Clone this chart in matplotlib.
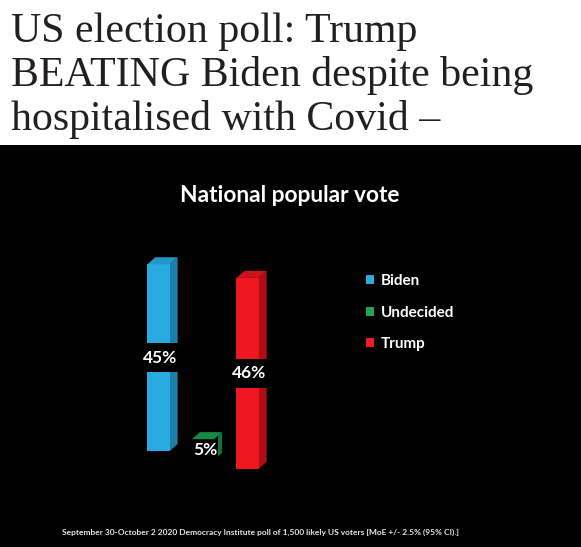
import matplotlib
matplotlib.use("Agg")
import matplotlib.pyplot as plt
from matplotlib.patches import Polygon, Rectangle, Patch
from matplotlib.path import Path
from matplotlib.transforms import Affine2D

# ---- data ----
categories = ["Biden", "Undecided", "Trump"]
values = [45, 5, 46]
value_labels = ["45%", "5%", "46%"]
headline = ["US election poll: Trump", "BEATING Biden despite being", "hospitalised with Covid \u2013"]
chart_title = "National popular vote"
footnote = ("September 30-October 2 2020 Democracy Institute poll of 1,500 likely US voters "
            "[MoE +/- 2.5% (95% CI).]")

# ---- styles ----
front_colors = ["#29abe2", "#1c9a4c", "#f01820"]
side_colors = ["#1d7fae", "#137236", "#b00d15"]
top_colors = ["#2496c8", "#178a42", "#cf121a"]
legend_colors = ["#29abe2", "#1fa55a", "#ee1c25"]
chart_font = ["Lato", "DejaVu Sans"]

W, H, DPI = 5.81, 5.47, 100
fig = plt.figure(figsize=(W, H), dpi=DPI, facecolor="white")
fw, fh = W * DPI, H * DPI

# black panel
fig.patches.append(Rectangle((0, 0), 1, (fh - 145) / fh, transform=fig.transFigure,
                             facecolor="black", edgecolor="none", zorder=-10))

# headline
for i, line in enumerate(headline):
    fig.text(11 / fw, 1 - (42 + i * 44) / fh, line, family=["Liberation Serif"],
             fontsize=30.2, color="#231f20", ha="left", va="baseline")

# chart axes (pixel-planned)
ax_left, ax_right = 100, 320
ax_top, ax_bot = 230, 480
ax = fig.add_axes([ax_left / fw, 1 - ax_bot / fh, (ax_right - ax_left) / fw, (ax_bot - ax_top) / fh])
ax.set_axis_off()
px_per_x = 44.5
px_per_y = 4.15
x0_px, base_px = 158.5, 451
ax.set_xlim((ax_left - x0_px) / px_per_x, (ax_right - x0_px) / px_per_x)
ylo = -(ax_bot - base_px) / px_per_y
ax.set_ylim(ylo, ylo + (ax_bot - ax_top) / px_per_y)

slope = 0.2  # perspective: bars further right sit lower


def bar_transform(x):
    xpix = ax.transData.transform((x, 0))[0]
    return ax.transData + Affine2D().translate(0, -slope * (xpix - x0_px))


def tall_box(x0, y0, width, height, mutation_size):
    padx, pady = 0.05 * mutation_size, 0.36 * mutation_size
    x0, y0 = x0 - padx, y0 - pady
    x1, y1 = x0 + width + 2 * padx, y0 + height + 2 * pady
    return Path([(x0, y0), (x1, y0), (x1, y1), (x0, y1), (x0, y0)], closed=True)


xs = list(range(len(categories)))
bw = 0.5
dx, dy = 8 / px_per_x, 7 / px_per_y
bars = ax.bar(xs, values, width=bw, color=front_colors, zorder=3)
for x, v, sc, tc, patch, lab in zip(xs, values, side_colors, top_colors, bars.patches, value_labels):
    tr = bar_transform(x)
    patch.set_transform(tr)
    patch.set_clip_on(False)
    xl, xr = x - bw / 2, x + bw / 2
    ax.add_patch(Polygon([(xr, 0), (xr, v), (xr + dx, v + dy), (xr + dx, dy)],
                         closed=True, facecolor=sc, edgecolor="none", transform=tr,
                         zorder=2, clip_on=False))
    ax.add_patch(Polygon([(xl, v), (xr, v), (xr + dx, v + dy), (xl + dx, v + dy)],
                         closed=True, facecolor=tc, edgecolor="none", transform=tr,
                         zorder=6, clip_on=False))
    ax.text(x + dx / 4, v / 2, lab, transform=tr, ha="center", va="center",
            family=chart_font, fontweight="bold", fontsize=12.5, color="white", zorder=5,
            bbox=dict(boxstyle=tall_box, facecolor="black", edgecolor="none"))

# chart title
fig.text(290 / fw, 1 - 195 / fh, chart_title, family=chart_font, fontweight="bold",
         fontsize=16.4, color="white", ha="center", va="center")

# legend
handles = [Patch(facecolor=c, edgecolor="none") for c in legend_colors]
leg = fig.legend(handles, categories, loc="upper left",
                 bbox_to_anchor=(360 / fw, 1 - 268 / fh), frameon=False,
                 prop=dict(family=chart_font, weight="bold", size=11),
                 labelcolor="white", handlelength=0.5, handleheight=0.5,
                 handletextpad=0.45, labelspacing=1.15, borderaxespad=0)

# footnote
fig.text(260 / fw, 1 - 532 / fh, footnote, family=chart_font, fontweight="bold",
         fontsize=6.0, color="#e6e6e6", ha="center", va="center")

fig.savefig("out.png", dpi=DPI, facecolor="white")
